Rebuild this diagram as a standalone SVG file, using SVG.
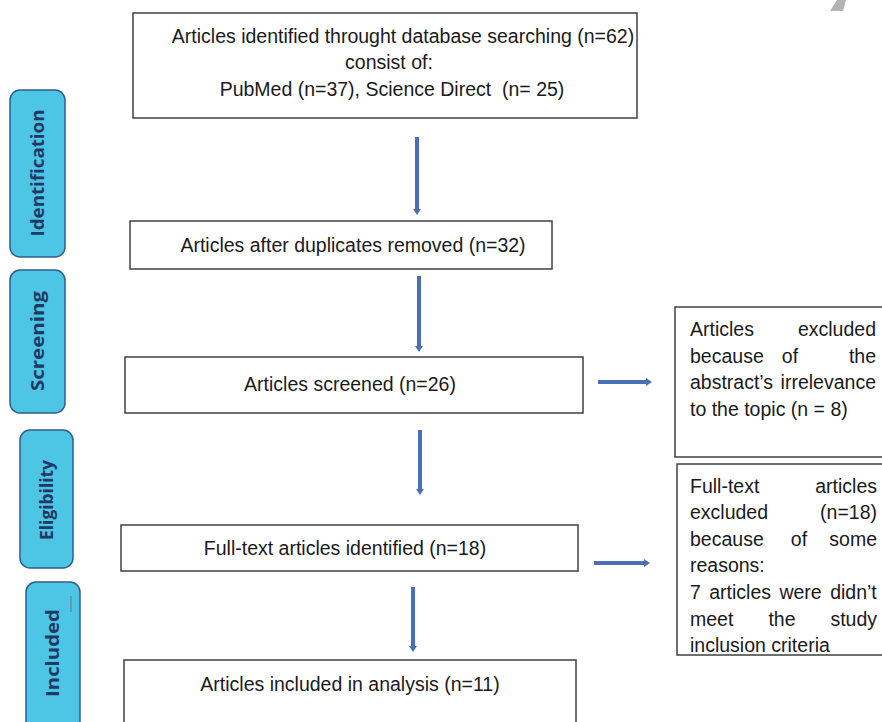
<svg xmlns="http://www.w3.org/2000/svg" width="882" height="722" viewBox="0 0 882 722">
<style>
.box{fill:#fff;stroke:#404040;stroke-width:1.5}
.side{fill:#4DC6E6;stroke:#2E5E8C;stroke-width:1.5}
.t{font-family:"Liberation Sans",Arial,sans-serif;font-size:19.5px;fill:#1a1a1a}
.c{text-anchor:middle}
.e{text-anchor:end}
.s{font-family:"Open Sans","Liberation Sans",sans-serif;font-size:17px;font-weight:bold;fill:#1F3864;text-anchor:middle}
.arr{stroke:#4A6FB5;stroke-width:4;fill:none}
.head{fill:#4A6FB5}
</style>
<rect width="882" height="722" fill="#fff"/>
<polygon points="837,0 846,0 843,11 830,11" fill="#b3b3b3"/>
<g id="side-identification"><rect class="side" x="10" y="90" width="55" height="167" rx="10"/><text class="s" transform="translate(44,173) rotate(-90)" textLength="127" lengthAdjust="spacingAndGlyphs">Identification</text></g>
<g id="side-screening"><rect class="side" x="10" y="270" width="55" height="143" rx="10"/><text class="s" transform="translate(44,341) rotate(-90)" textLength="100" lengthAdjust="spacingAndGlyphs">Screening</text></g>
<g id="side-eligibility"><rect class="side" x="20" y="430" width="53" height="138" rx="10"/><text class="s" transform="translate(53,500) rotate(-90)" textLength="80" lengthAdjust="spacingAndGlyphs">Eligibility</text></g>
<g id="side-included"><rect class="side" x="26" y="582" width="54" height="150" rx="10"/><text class="s" transform="translate(59,653) rotate(-90)" textLength="88" lengthAdjust="spacingAndGlyphs">Included</text><line x1="71" y1="596" x2="71" y2="612" stroke="#8a6a5a" stroke-width="1"/></g>
<g id="n1"><rect class="box" x="133" y="13" width="504" height="105"/>
<text class="t c" x="403" y="43">Articles identified throught database searching (n=62)</text>
<text class="t c" x="389" y="69">consist of:</text>
<text class="t c" x="392" y="96" xml:space="preserve">PubMed (n=37), Science Direct  (n= 25)</text></g>
<g id="n2"><rect class="box" x="130" y="221" width="422" height="48"/><text class="t c" x="353" y="252">Articles after duplicates removed (n=32)</text></g>
<g id="n3"><rect class="box" x="125" y="357" width="458" height="56"/><text class="t c" x="350" y="391">Articles screened (n=26)</text></g>
<g id="n4"><rect class="box" x="121" y="525" width="457" height="46"/><text class="t c" x="345" y="555">Full-text articles identified (n=18)</text></g>
<g id="n5"><rect class="box" x="124" y="660" width="452" height="70"/><text class="t c" x="350" y="691">Articles included in analysis (n=11)</text></g>
<g id="x1"><rect class="box" x="675" y="307" width="212" height="150"/>
<text class="t" x="690" y="336">Articles</text><text class="t e" x="876" y="336">excluded</text>
<text class="t" x="690" y="363">because</text><text class="t c" x="790" y="363">of</text><text class="t e" x="876" y="363">the</text>
<text class="t" x="690" y="389">abstract’s</text><text class="t e" x="876" y="389">irrelevance</text>
<text class="t" x="690" y="416">to the topic (n = 8)</text></g>
<g id="x2"><rect class="box" x="677" y="464" width="210" height="191"/>
<text class="t" x="690" y="493">Full-text</text><text class="t e" x="877" y="493">articles</text>
<text class="t" x="690" y="519">excluded</text><text class="t e" x="877" y="519">(n=18)</text>
<text class="t" x="690" y="546">because</text><text class="t c" x="799" y="546">of</text><text class="t e" x="877" y="546">some</text>
<text class="t" x="690" y="572">reasons:</text>
<text class="t" x="690" y="599" word-spacing="3">7 articles were didn’t</text>
<text class="t" x="690" y="626">meet</text><text class="t c" x="782" y="626">the</text><text class="t e" x="877" y="626">study</text>
<text class="t" x="690" y="652">inclusion criteria</text></g>
<g id="connectors">
<line class="arr" x1="417" y1="137" x2="417" y2="210"/><polygon class="head" points="413,209 421,209 417,215"/>
<line class="arr" x1="419" y1="276" x2="419" y2="347"/><polygon class="head" points="415,346 423,346 419,352"/>
<line class="arr" x1="420" y1="430" x2="420" y2="490"/><polygon class="head" points="416,489 424,489 420,495"/>
<line class="arr" x1="413" y1="587" x2="413" y2="647"/><polygon class="head" points="409,646 417,646 413,652"/>
<line class="arr" x1="598" y1="382" x2="647" y2="382"/><polygon class="head" points="646,378 646,386 652,382"/>
<line class="arr" x1="594" y1="563" x2="645" y2="563"/><polygon class="head" points="644,559 644,567 650,563"/>
</g>
</svg>
